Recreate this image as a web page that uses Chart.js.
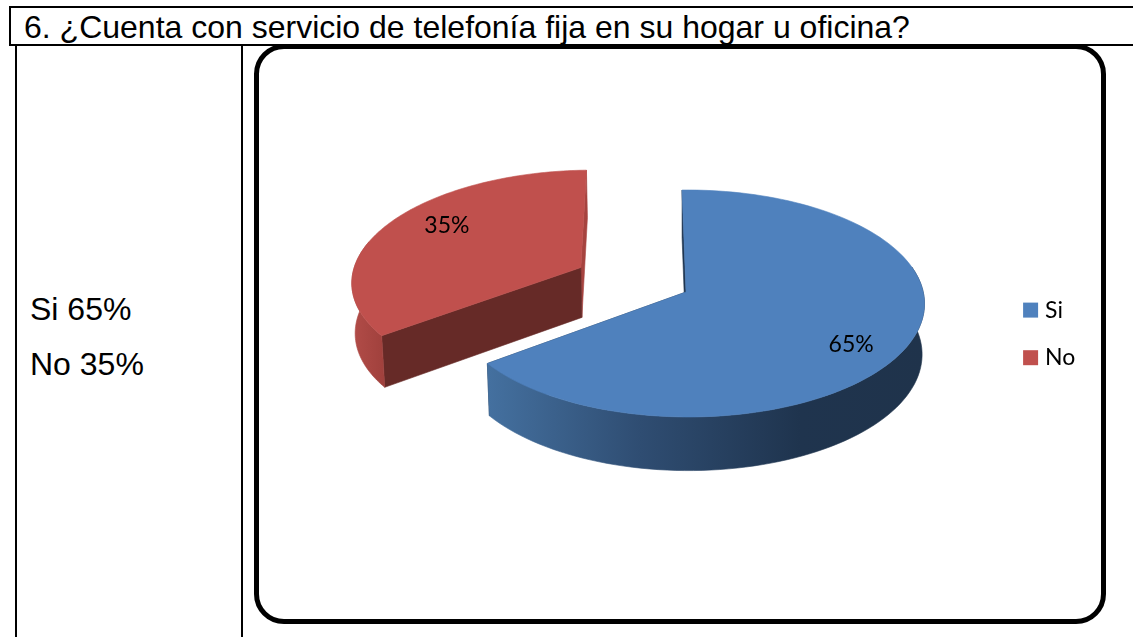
<!DOCTYPE html>
<html lang="es">
<head>
<meta charset="utf-8">
<title>Telefonía fija</title>
<script src="https://cdn.jsdelivr.net/npm/chart.js@4"></script>
<style>
html,body{margin:0;padding:0;background:#fff;width:1133px;height:637px;overflow:hidden}
.ln{position:absolute;background:#000}
.t{position:absolute;font-family:"Liberation Sans",Arial,sans-serif;color:#000;white-space:nowrap;line-height:1}
#frame{position:absolute;left:254px;top:44px;width:842px;height:570px;border:5px solid #000;border-radius:30px;background:#fff}
canvas{position:absolute;left:0;top:0}
</style>
</head>
<body>
<div class="ln" style="left:10px;top:6px;width:1123px;height:2px"></div>
<div class="ln" style="left:10px;top:44px;width:1123px;height:2px"></div>
<div class="ln" style="left:9px;top:6px;width:2px;height:40px"></div>
<div class="ln" style="left:15px;top:44px;width:2px;height:593px"></div>
<div class="ln" style="left:241px;top:44px;width:2px;height:593px"></div>
<div class="t" id="title" style="left:24px;top:11px;font-size:32px">6. ¿Cuenta con servicio de telefonía fija en su hogar u oficina?</div>
<div class="t" style="left:30px;top:293px;font-size:32px">Si 65%</div>
<div class="t" style="left:30px;top:348px;font-size:32px">No 35%</div>
<div id="frame"></div>
<canvas id="c" width="1133" height="637"></canvas>
<script>
const categories = ['Si', 'No'];
const values = [65, 35];
const colors = ['#4f81bd', '#c0504d'];

// View of the tilted 3D pie, relative to the arc centre and radius given by Chart.js
const view = { widen: 1.01, squash: 0.482, persp: 0.1013, perspX: 0.008, skew: 0.001, depth: 50.5, depthGrow: 0.025, depthShrink: 0.99 };
const explode = [0, 0.51];
const labelPlace = [{ r: 0.75, dy: 14 }, { r: 0.69, dy: -11 }];

function project(el, a, r, ex, ey, low) {
  const u = r * Math.cos(a) + ex, v = r * Math.sin(a) + ey;
  const d = 1 - view.persp * v - view.perspX * u;
  const R = el.outerRadius;
  let x = R * view.widen * (u + view.skew * v) / d;
  let y = R * view.squash * v / d;
  if (low) { x *= view.depthShrink; y += view.depth + y * view.depthGrow; }
  return { x: el.x + x, y: el.y + y };
}
function paint(ctx, pts, fill) {
  ctx.beginPath();
  pts.forEach((p, i) => i ? ctx.lineTo(p.x, p.y) : ctx.moveTo(p.x, p.y));
  ctx.closePath();
  ctx.fillStyle = fill; ctx.strokeStyle = fill; ctx.lineWidth = 0.6;
  ctx.fill(); ctx.stroke();
}
function ramp(ctx, stops) {
  const first = stops[0][0], w = stops[stops.length - 1][0] - first;
  const g = ctx.createLinearGradient(first, 0, first + w, 0);
  stops.forEach(s => g.addColorStop((s[0] - first) / w, s[1]));
  return g;
}
const walls = [
  { outer: [[489, '#44709f'], [640, '#2f4d72'], [800, '#1f344e'], [925, '#1f334b']], start: '#1f3550', end: '#1f3550' },
  { outer: [[352, '#b24c48'], [386, '#9f403c']], start: '#662a27', end: '#a6433f' }
];

const pie3d = {
  id: 'pie3d',
  afterLayout(chart) {
    const lg = chart.legend;
    const w = lg.right - lg.left, h = lg.bottom - lg.top;
    lg.left = 1003; lg.right = lg.left + w;
    lg.top = 274; lg.bottom = lg.top + h;
  },
  beforeDatasetsDraw(chart) {
    const ctx = chart.ctx, meta = chart.getDatasetMeta(0), STEPS = 120;
    ctx.save();
    meta.data.forEach((arc, i) => {
      const el = arc.getProps(['x', 'y', 'startAngle', 'endAngle', 'outerRadius'], true);
      const mid = (el.startAngle + el.endAngle) / 2;
      const ex = explode[i] * Math.cos(mid), ey = explode[i] * Math.sin(mid);
      const P = (a, r, low) => project(el, a, r, ex, ey, low);
      const s = el.startAngle, e = el.endAngle, wall = walls[i];

      // cut faces, behind the wall
      paint(ctx, [P(e, 0), P(e, 1), P(e, 1, true), P(e, 0, true)], wall.end);
      paint(ctx, [P(s, 0), P(s, 1), P(s, 1, true), P(s, 0, true)], wall.start);

      // outer wall: the part of the rim that faces the viewer
      const upper = [], lower = [];
      for (let k = 0; k <= STEPS; k++) {
        const a = s + (e - s) * k / STEPS;
        if (Math.sin(a) < -0.25) continue;
        upper.push(P(a, 1));
        lower.unshift(P(a, 1, true));
      }
      paint(ctx, upper.concat(lower), ramp(ctx, wall.outer));

      // top surface
      const top = [P(s, 0)];
      for (let k = 0; k <= STEPS; k++) top.push(P(s + (e - s) * k / STEPS, 1));
      paint(ctx, top, arc.options.backgroundColor);
    });
    // value labels
    ctx.fillStyle = '#000';
    ctx.font = '23px Lato, Carlito, sans-serif';
    ctx.textAlign = 'center';
    ctx.textBaseline = 'middle';
    meta.data.forEach((arc, i) => {
      const el = arc.getProps(['x', 'y', 'startAngle', 'endAngle', 'outerRadius'], true);
      const mid = (el.startAngle + el.endAngle) / 2;
      const p = project(el, mid, labelPlace[i].r + explode[i], 0, 0, false);
      ctx.fillText(values[i] + '%', p.x, p.y + labelPlace[i].dy);
    });
    ctx.restore();
    return false;
  }
};

new Chart(document.getElementById('c'), {
  type: 'pie',
  data: {
    labels: categories,
    datasets: [{ data: values, backgroundColor: colors, borderWidth: 0 }]
  },
  options: {
    responsive: false,
    animation: false,
    events: [],
    rotation: -1,
    layout: { padding: { left: 453, right: 214, top: 59, bottom: 112 } },
    plugins: {
      tooltip: { enabled: false },
      title: { display: false },
      legend: {
        position: 'chartArea',
        align: 'start',
        labels: {
          usePointStyle: true,
          pointStyle: 'rect',
          boxWidth: 6,
          boxHeight: 15,
          color: '#000',
          font: { family: 'Lato, Carlito, sans-serif', size: 23 },
          padding: 24.6
        }
      }
    }
  },
  plugins: [pie3d]
});
</script>
</body>
</html>
